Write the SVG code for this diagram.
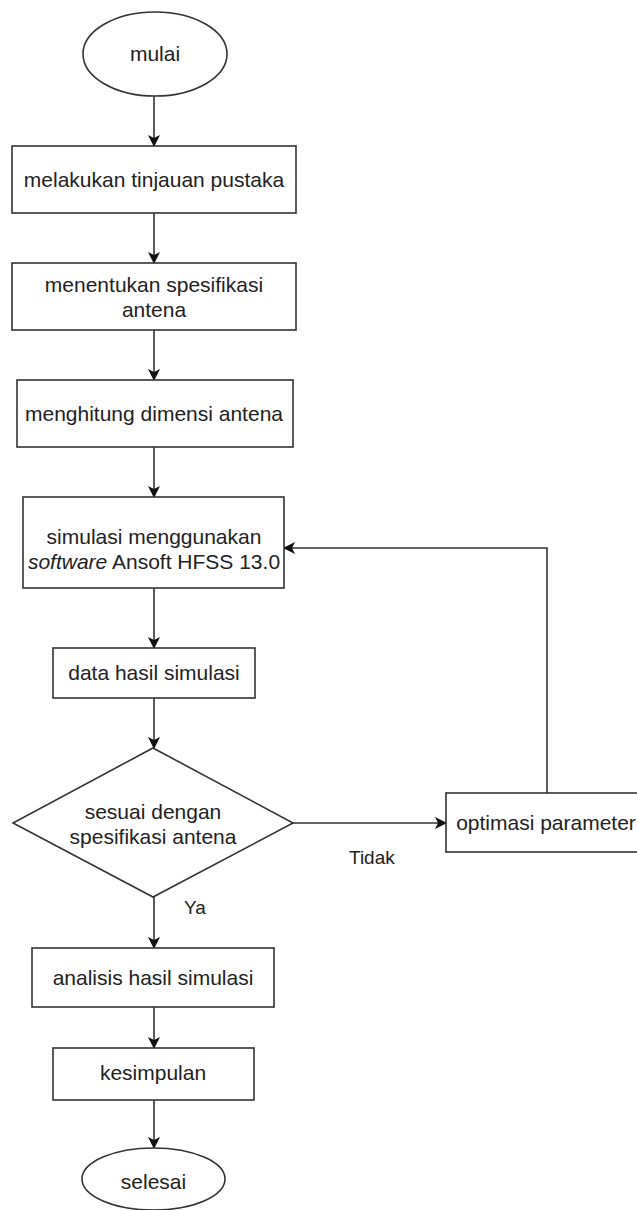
<svg xmlns="http://www.w3.org/2000/svg" width="637" height="1210" viewBox="0 0 637 1210">
<defs>
<marker id="arr" viewBox="0 0 12 12" markerWidth="12" markerHeight="12" refX="11" refY="6" orient="auto" markerUnits="userSpaceOnUse">
<path d="M0,0 L12,6 L0,12 L3,6 z" fill="#111"/>
</marker>
<style>
.s{fill:#fff;stroke:#333;stroke-width:1.6}
.t{font-family:"Liberation Sans",Arial,sans-serif;font-size:21px;fill:#222;text-anchor:middle}
.l{font-family:"Liberation Sans",Arial,sans-serif;font-size:19px;fill:#222}
.c{fill:none;stroke:#333;stroke-width:1.6;marker-end:url(#arr)}
</style>
</defs>
<rect width="637" height="1210" fill="#fff"/>
<g id="connectors">
<path class="c" d="M154,96 V146"/>
<path class="c" d="M154,213 V263"/>
<path class="c" d="M154,330 V380"/>
<path class="c" d="M154,447 V497"/>
<path class="c" d="M154,588 V648"/>
<path class="c" d="M154,698 V748"/>
<path class="c" d="M154,897 V948"/>
<path class="c" d="M154,1007 V1048"/>
<path class="c" d="M154,1100 V1148"/>
<path class="c" d="M293,823 H446"/>
<path class="c" d="M547,793 V548 H284"/>
<text class="l" x="349" y="864">Tidak</text>
<text class="l" x="184" y="914">Ya</text>
</g>
<g id="mulai">
<ellipse class="s" cx="155" cy="54" rx="72" ry="42"/>
<text class="t" x="155" y="61">mulai</text>
</g>
<g id="tinjauan">
<rect class="s" x="12" y="146" width="284" height="67"/>
<text class="t" x="154" y="187">melakukan tinjauan pustaka</text>
</g>
<g id="spesifikasi">
<rect class="s" x="12" y="263" width="284" height="67"/>
<text class="t" x="154" y="292">menentukan spesifikasi</text>
<text class="t" x="154" y="317">antena</text>
</g>
<g id="dimensi">
<rect class="s" x="17" y="380" width="276" height="67"/>
<text class="t" x="154" y="421">menghitung dimensi antena</text>
</g>
<g id="simulasi">
<rect class="s" x="23" y="497" width="261" height="91"/>
<text class="t" x="154" y="544">simulasi menggunakan</text>
<text class="t" x="154" y="569"><tspan font-style="italic">software</tspan> Ansoft HFSS 13.0</text>
</g>
<g id="data">
<rect class="s" x="53" y="648" width="202" height="50"/>
<text class="t" x="154" y="680">data hasil simulasi</text>
</g>
<g id="keputusan">
<path class="s" d="M153,748 L293,823 L153,897 L13,823 Z"/>
<text class="t" x="153" y="819">sesuai dengan</text>
<text class="t" x="153" y="844">spesifikasi antena</text>
</g>
<g id="optimasi">
<rect class="s" x="446" y="793" width="200" height="59"/>
<text class="t" x="546" y="830">optimasi parameter</text>
</g>
<g id="analisis">
<rect class="s" x="32" y="948" width="242" height="59"/>
<text class="t" x="153" y="985">analisis hasil simulasi</text>
</g>
<g id="kesimpulan">
<rect class="s" x="53" y="1048" width="201" height="52"/>
<text class="t" x="153" y="1080">kesimpulan</text>
</g>
<g id="selesai">
<ellipse class="s" cx="153.5" cy="1179" rx="71.5" ry="31"/>
<text class="t" x="153.5" y="1189">selesai</text>
</g>
</svg>
